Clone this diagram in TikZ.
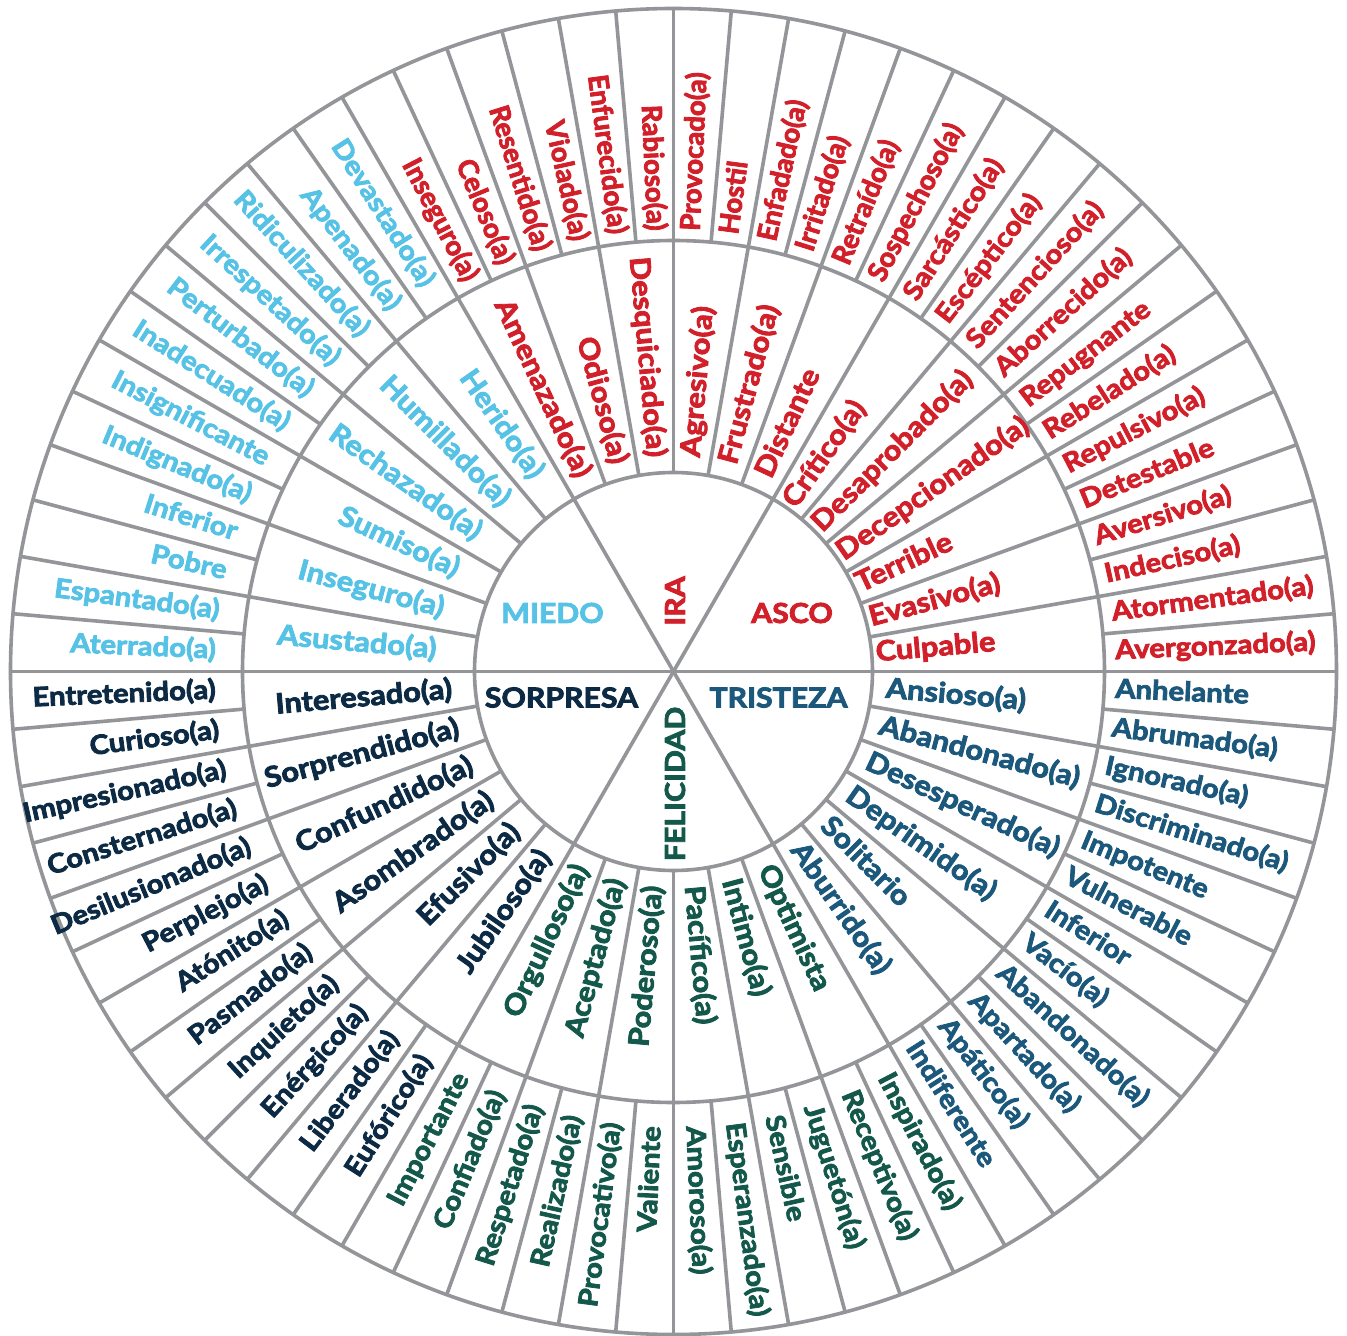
\documentclass[tikz,border=0pt]{standalone}
\usepackage{fontspec}
\setmainfont{Lato}[FakeStretch=1.1, BoldFeatures={FakeBold=3}]
\newfontfamily\plainlato{Lato}[BoldFeatures={FakeBold=3}]
\usepackage{xcolor}
\usepackage{tikz}

\definecolor{rimgray}{HTML}{939598}
\definecolor{miedoblue}{HTML}{56C2E6}
\definecolor{irared}{HTML}{D2202A}
\definecolor{tristezablue}{HTML}{1B587C}
\definecolor{felicidadgreen}{HTML}{14584C}
\definecolor{sorpresanavy}{HTML}{0C2A44}

% one ring of words: name, first angle, step, inner radius, style, words
\newcommand{\ringwords}[6]{%
  \foreach \w [count=\k] in {#6}{%
    \pgfmathsetmacro\ang{#2+#3*(\k-1)}%
    \pgfmathtruncatemacro\flip{(\ang>90)&&(\ang<270)}%
    \ifnum\flip=1
      \pgfmathsetmacro\rot{\ang+180}%
      \node[#5, rotate=\rot, anchor=east] (#1\k) at (\ang:#4) {\w};
    \else
      \node[#5, rotate=\ang, anchor=west] (#1\k) at (\ang:#4) {\w};
    \fi
  }%
}

\begin{document}
\begin{tikzpicture}[
    x=1pt, y=1pt,
    rim/.style={draw=rimgray, line width=3.6pt},
    core/.style={font=\fontsize{27.5}{28}\selectfont\bfseries, inner sep=0pt},
    mid/.style={font=\fontsize{28}{28}\selectfont\bfseries, inner sep=0pt,
        text height=20pt, text depth=5pt},
    outer/.style={font=\fontsize{26.6}{27}\selectfont\bfseries, inner sep=0pt,
        text height=19pt, text depth=5pt},
    narrow/.style={font=\plainlato\fontsize{27.5}{27}\selectfont\bfseries},
    miedo/.style={text=miedoblue},
    ira/.style={text=irared},
    asco/.style={text=irared},
    tristeza/.style={text=tristezablue},
    felicidad/.style={text=felicidadgreen},
    sorpresa/.style={text=sorpresanavy}
]
\fill[white] (-673.5,-664.5) rectangle (673.5,671.5);
\useasboundingbox (-673.5,-664.5) rectangle (673.5,671.5);

\coordinate (hub) at (0,0);

% rings and spokes
\draw[rim] (hub) circle (199);
\draw[rim] (hub) circle (431);
\draw[rim] (hub) circle (663);
\foreach \a in {0,60,...,300}
    \draw[rim] (hub) -- (\a:199);
\foreach \a in {0,10,...,350}
    \draw[rim] (\a:199) -- (\a:663);
\foreach \a in {5,15,...,355}
    \draw[rim] (\a:431) -- (\a:663);

% core emotions
\node[core, miedo] (miedo) at (-121,58.5) {MIEDO};
\node[core, ira, rotate=90] (ira) at (1.5,70.5) {IRA};
\node[core, asco] (asco) at (118.5,58.5) {ASCO};
\node[core, sorpresa] (sorpresa) at (-112,-26) {SORPRESA};
\node[core, tristeza] (tristeza) at (105,-26) {TRISTEZA};
\node[core, felicidad, rotate=90] (felicidad) at (1.5,-112.5) {FELICIDAD};

% middle ring
\ringwords{ascoM}{5}{10}{203}{mid, asco}{Culpable, Evasivo(a), Terrible, Decepcionado(a), Desaprobado(a), Crítico(a)}
\ringwords{iraM}{65}{10}{215}{mid, ira}{Distante, Frustrado(a), Agresivo(a), Desquiciado(a), Odioso(a), Amenazado(a)}
\ringwords{miedoM}{125}{10}{238}{mid, miedo}{Herido(a), Humillado(a), Rechazado(a), Sumiso(a), Inseguro(a), Asustado(a)}
\ringwords{sorpresaM}{185}{10}{222}{mid, sorpresa}{Interesado(a), Sorprendido(a), Confundido(a), Asombrado(a), Efusivo(a), Jubiloso(a)}
\ringwords{felicidadM}{245}{10}{215}{mid, felicidad}{Orgulloso(a), Aceptado(a), Poderoso(a), Pacífico(a), Intimo(a), Optimista}
\ringwords{tristezaM}{305}{10}{213}{mid, tristeza}{Aburrido(a), Solitario, Deprimido(a), Desesperado(a), Abandonado(a), Ansioso(a)}

% outer ring
\ringwords{ascoO}{2.5}{5}{442}{outer, asco}{Avergonzado(a), Atormentado(a), Indeciso(a), Aversivo(a), Detestable, Repulsivo(a), Rebelado(a), Repugnante, Aborrecido(a), Sentencioso(a), Escéptico(a), Sarcástico(a)}
\ringwords{iraO}{62.5}{5}{441}{outer, narrow, ira}{Sospechoso(a), Retraído(a), Irritado(a), Enfadado(a), Hostil, Provocado(a), Rabioso(a), Enfurecido(a), Violado(a), Resentido(a), Celoso(a), Inseguro(a)}
\ringwords{miedoO}{122.5}{5}{458}{outer, miedo}{Devastado(a), Apenado(a), Ridiculizado(a), Irrespetado(a), Perturbado(a), Inadecuado(a), Insignificante, Indignado(a), Inferior, Pobre, Espantado(a), Aterrado(a)}
\ringwords{sorpresaO}{182.5}{5}{458}{outer, sorpresa}{Entretenido(a), Curioso(a), Impresionado(a), Consternado(a), Desilusionado(a), Perplejo(a), Atónito(a), Pasmado(a), Inquieto(a), Enérgico(a), Liberado(a), Eufórico(a)}
\ringwords{felicidadO}{242.5}{5}{455}{outer, felicidad}{Importante, Confiado(a), Respetado(a), Realizado(a), Provocativo(a), Valiente, Amoroso(a), Esperanzado(a), Sensible, Juguetón(a), Receptivo(a), Inspirado(a)}
\ringwords{tristezaO}{302.5}{5}{442}{outer, tristeza}{Indiferente, Apático(a), Apartado(a), Abandonado(a), Vacío(a), Inferior, Vulnerable, Impotente, Discriminado(a), Ignorado(a), Abrumado(a), Anhelante}
\end{tikzpicture}
\end{document}
